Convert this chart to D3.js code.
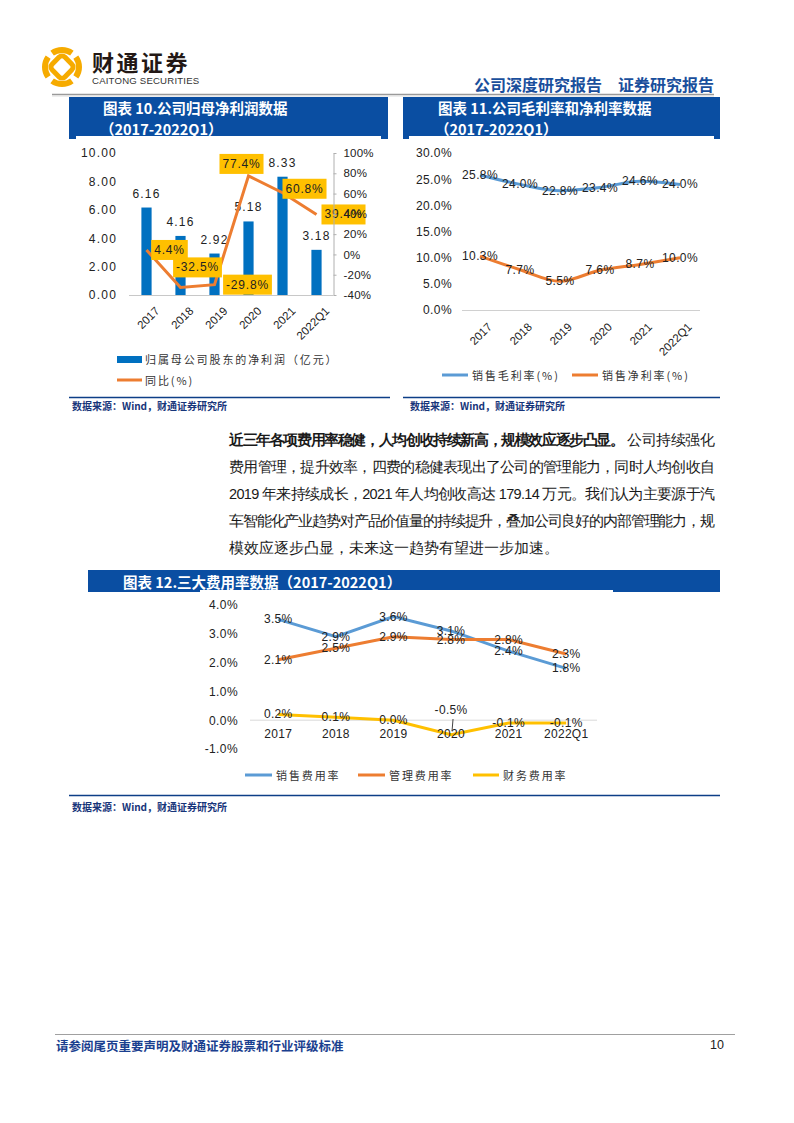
<!DOCTYPE html>
<html><head><meta charset="utf-8">
<script src="https://cdn.jsdelivr.net/npm/d3@7"></script>
<style>
body{margin:0;background:#fff}
svg text{font-family:"Liberation Sans",Arial,sans-serif}
</style></head><body><div id="page"></div>
<script>
// ---------------- data ----------------
const years = ["2017","2018","2019","2020","2021","2022Q1"];
const netProfit = [6.16,4.16,2.92,5.18,8.33,3.18];          // 归属母公司股东的净利润（亿元）
const netProfitYoY = [4.4,-32.5,-29.8,77.4,60.8,39.4];      // 同比(%)
const grossMargin = [25.8,24.0,22.8,23.4,24.6,24.0];        // 销售毛利率(%)
const netMargin = [10.3,7.7,5.5,7.6,8.7,10.0];              // 销售净利率(%)
const sellingRate = [3.5,2.9,3.6,3.1,2.4,1.8];              // 销售费用率
const adminRate = [2.1,2.5,2.9,2.8,2.8,2.3];                // 管理费用率
const financeRate = [0.2,0.1,0.0,-0.5,-0.1,-0.1];           // 财务费用率
const leftTicks10 = [0,2,4,6,8,10];
const rightTicks10 = [-40,-20,0,20,40,60,80,100];
const ticks11 = [0,5,10,15,20,25,30];
const ticks12 = [-1,0,1,2,3,4];

// label offsets (layout only)
const yoyLabelOffsets = [[23,0],[17,-20],[33,0],[-7,-12],[22,-4],[27,0]];

const CJK = '"Noto Sans CJK SC","Noto Sans",sans-serif';
const TITLE_BLUE = "#0a4ea2";
const BAR_BLUE = "#0070c0";
const L_BLUE = "#5b9bd5", L_ORANGE = "#ed7d31", L_YELLOW = "#ffc000";

const svg = d3.select("#page").append("svg").attr("width",794).attr("height",1123);

// ---------------- header ----------------
(function logo(){
  const g = svg.append("g").attr("transform","translate(62,67)");
  const arc = d3.arc();
  const segs = [[-0.62,0.62],[Math.PI/2-0.62,Math.PI/2+0.62],[Math.PI-0.62,Math.PI+0.62],[3*Math.PI/2-0.62,3*Math.PI/2+0.62]];
  segs.forEach(s=>{
    g.append("path").attr("d",arc({innerRadius:14,outerRadius:20,startAngle:s[0],endAngle:s[1]})).attr("fill","#f6ab00");
  });
  g.append("rect").attr("x",-9).attr("y",-9).attr("width",18).attr("height",18).attr("rx",4)
    .attr("transform","rotate(45)").attr("fill","none").attr("stroke","#f6ab00").attr("stroke-width",5);
})();
svg.append("text").attr("x",92).attr("y",71).attr("font-size",22).attr("font-weight",700)
  .attr("letter-spacing",2.5).style("font-family",CJK).attr("fill","#231815").text("财通证券");
svg.append("text").attr("x",92).attr("y",84).attr("font-size",9.6).attr("fill","#333")
  .attr("letter-spacing",0.2).text("CAITONG SECURITIES");
svg.append("text").attr("x",602).attr("y",91).attr("text-anchor","end").attr("font-size",16).attr("font-weight",700)
  .style("font-family",CJK).attr("fill","#1a4f9c").text("公司深度研究报告");
svg.append("text").attr("x",714).attr("y",91).attr("text-anchor","end").attr("font-size",16).attr("font-weight",700)
  .style("font-family",CJK).attr("fill","#1a4f9c").text("证券研究报告");
svg.append("line").attr("x1",52).attr("x2",714).attr("y1",94.5).attr("y2",94.5).attr("stroke","#9a9a9a").attr("stroke-width",1.5);
svg.append("line").attr("x1",52).attr("x2",714).attr("y1",96).attr("y2",96).attr("stroke","#dcdcdc").attr("stroke-width",1);

// ---------------- title boxes ----------------
function titleBox(x0,x1,y0,y1){
  svg.append("rect").attr("x",x0).attr("y",y0).attr("width",x1-x0).attr("height",y1-y0).attr("fill",TITLE_BLUE);
}
function titleText(x,y,t){
  svg.append("text").attr("x",x).attr("y",y).attr("font-size",14.5).attr("font-weight",700)
    .style("font-family",CJK).attr("fill","#fff").attr("dominant-baseline","central").text(t);
}
titleBox(69,388,97,139);
titleBox(403,720,97,139);
svg.append("rect").attr("x",76).attr("y",136).attr("width",305).attr("height",4).attr("fill","#fff");
svg.append("rect").attr("x",409).attr("y",136).attr("width",305).attr("height",4).attr("fill","#fff");
titleText(103,107,"图表 10.公司归母净利润数据");
titleText(100,128,"（2017-2022Q1）");
titleText(438,107,"图表 11.公司毛利率和净利率数据");
titleText(435,128,"（2017-2022Q1）");
titleBox(88,720,570,592);
svg.append("rect").attr("x",200).attr("y",590).attr("width",413).attr("height",3).attr("fill","#fff");
titleText(123,581,"图表 12.三大费用率数据（2017-2022Q1）");

function styleAxis(g, size){
  g.select(".domain").remove();
  g.selectAll("text").attr("font-size",size).attr("fill","#222").attr("letter-spacing",0.6)
    .style("font-family",'"Liberation Sans",Arial,sans-serif');
}
function legendText(x,y,t){
  svg.append("text").attr("x",x).attr("y",y).attr("font-size",11).attr("letter-spacing",1.9)
    .attr("dominant-baseline","central").style("font-family",CJK).attr("fill","#333").text(t);
}

// ---------------- chart 10 ----------------
(function(){
  const x = d3.scaleBand().domain(years).range([129.5,333.5]).paddingInner(0.7).paddingOuter(0.35);
  const cx = d => x(d)+x.bandwidth()/2;
  const yL = d3.scaleLinear().domain([0,10]).range([295,153]);
  const yR = d3.scaleLinear().domain([-40,100]).range([295,153]);
  const g = svg.append("g");
  const ga = g.append("g").attr("transform","translate(121,0)")
    .call(d3.axisLeft(yL).tickValues(leftTicks10).tickFormat(d=>d.toFixed(2)).tickSize(0).tickPadding(4));
  styleAxis(ga,12);
  ga.selectAll("text").attr("letter-spacing",1.2);
  g.append("line").attr("x1",129).attr("x2",333).attr("y1",295.5).attr("y2",295.5).attr("stroke","#c8c8c8");
  g.selectAll(".bar").data(netProfit).join("rect")
    .attr("x",(d,i)=>x(years[i])).attr("width",x.bandwidth())
    .attr("y",d=>yL(d)).attr("height",d=>yL(0)-yL(d)).attr("fill",BAR_BLUE);
  g.selectAll(".bl").data(netProfit).join("text")
    .attr("x",(d,i)=>cx(years[i])).attr("y",d=>yL(d)-14).attr("text-anchor","middle")
    .attr("dominant-baseline","central").attr("font-size",12).attr("letter-spacing",1.2).attr("fill","#222")
    .text(d=>d.toFixed(2));
  const gr = g.append("g").attr("transform","translate(333.5,0)")
    .call(d3.axisRight(yR).tickValues(rightTicks10).tickFormat(d=>d+"%").tickSize(3).tickSizeOuter(0).tickPadding(7));
  gr.select(".domain").attr("stroke","#b0b0b0");
  gr.selectAll("line").attr("stroke","#b0b0b0");
  gr.selectAll("text").attr("font-size",11.5).attr("fill","#222").attr("letter-spacing",0.2);
  const line = d3.line().x((d,i)=>cx(years[i])).y(d=>yR(d));
  g.append("path").attr("d",line(netProfitYoY)).attr("fill","none").attr("stroke",L_ORANGE).attr("stroke-width",3);
  netProfitYoY.forEach((v,i)=>{
    const px = cx(years[i])+yoyLabelOffsets[i][0], py = yR(v)+yoyLabelOffsets[i][1];
    const lg = g.append("g");
    const t = lg.append("text").attr("x",px).attr("y",py).attr("text-anchor","middle").attr("dominant-baseline","central")
      .attr("font-size",12).attr("letter-spacing",0.8).attr("fill","#222").text(v.toFixed(1)+"%");
    const w = t.node().getComputedTextLength()+6;
    lg.insert("rect","text").attr("x",px-w/2).attr("y",py-10).attr("width",w).attr("height",20).attr("fill",L_YELLOW);
  });
  gr.raise();
  const gx = g.append("g").attr("transform","translate(0,295)")
    .call(d3.axisBottom(x).tickSize(0).tickPadding(0));
  gx.select(".domain").remove();
  gx.selectAll("text").attr("font-size",11.5).attr("fill","#222").attr("text-anchor","end")
    .attr("dy",0).attr("y",0).attr("x",0)
    .attr("transform","translate(8,11) rotate(-45)").attr("dominant-baseline","hanging");
  // legend
  svg.append("rect").attr("x",117).attr("y",356).attr("width",25).attr("height",7).attr("fill",BAR_BLUE);
  legendText(145,359,"归属母公司股东的净利润（亿元）");
  svg.append("line").attr("x1",117).attr("x2",142).attr("y1",380).attr("y2",380).attr("stroke",L_ORANGE).attr("stroke-width",3);
  legendText(145,380,"同比(%)");
})();

// ---------------- chart 11 ----------------
(function(){
  const x = d3.scaleBand().domain(years).range([460,700]);
  const cx = d => x(d)+x.bandwidth()/2;
  const y = d3.scaleLinear().domain([0,30]).range([310,153]);
  const g = svg.append("g");
  const ga = g.append("g").attr("transform","translate(456,0)")
    .call(d3.axisLeft(y).tickValues(ticks11).tickFormat(d=>d.toFixed(1)+"%").tickSize(0).tickPadding(4));
  styleAxis(ga,12);
  ga.selectAll("text").attr("letter-spacing",0.4);
  g.append("line").attr("x1",462).attr("x2",700).attr("y1",310.5).attr("y2",310.5).attr("stroke","#d0d0d0");
  const line = d3.line().x((d,i)=>cx(years[i])).y(d=>y(d)).curve(d3.curveMonotoneX);
  [[grossMargin,L_BLUE],[netMargin,L_ORANGE]].forEach(([arr,c])=>{
    g.append("path").attr("d",line(arr)).attr("fill","none").attr("stroke",c).attr("stroke-width",3);
  });
  [grossMargin,netMargin].forEach(arr=>{
    g.append("g").selectAll("text").data(arr).join("text")
      .attr("x",(d,i)=>cx(years[i])).attr("y",d=>y(d)).attr("text-anchor","middle").attr("dominant-baseline","central")
      .attr("font-size",12).attr("letter-spacing",0.4).attr("fill","#222").text(d=>d.toFixed(1)+"%");
  });
  const gx = g.append("g").attr("transform","translate(0,310)")
    .call(d3.axisBottom(x).tickSize(0).tickPadding(0));
  gx.select(".domain").remove();
  gx.selectAll("text").attr("font-size",11.5).attr("fill","#222").attr("text-anchor","end")
    .attr("dy",0).attr("y",0).attr("x",0)
    .attr("transform","translate(7,12) rotate(-45)").attr("dominant-baseline","hanging");
  svg.append("line").attr("x1",442).attr("x2",468).attr("y1",375).attr("y2",375).attr("stroke",L_BLUE).attr("stroke-width",3);
  legendText(472,375,"销售毛利率(%)");
  svg.append("line").attr("x1",572).attr("x2",598).attr("y1",375).attr("y2",375).attr("stroke",L_ORANGE).attr("stroke-width",3);
  legendText(602,375,"销售净利率(%)");
})();

// ---------------- sources ----------------
function source(x0,x1,yLine,tx,ty){
  svg.append("line").attr("x1",x0).attr("x2",x1).attr("y1",yLine).attr("y2",yLine).attr("stroke","#0d3f87").attr("stroke-width",1.3);
  svg.append("text").attr("x",tx).attr("y",ty).attr("font-size",10).attr("font-weight",700)
    .attr("dominant-baseline","central").style("font-family",CJK).attr("fill","#17357a").text("数据来源：Wind，财通证券研究所");
}
source(69,390,397.5,72,405);
source(403,720,397.5,410,405);
source(69,720,795.5,72,806);

// ---------------- paragraph ----------------
(function(){
  const g = svg.append("g").style("font-family",CJK).attr("font-size",14.5).attr("fill","#1a1a1a");
  g.append("text").attr("x",229).attr("y",440).attr("dominant-baseline","central").attr("font-weight",700)
    .attr("textLength",396).attr("lengthAdjust","spacing").text("近三年各项费用率稳健，人均创收持续新高，规模效应逐步凸显。");
  g.append("text").attr("x",627).attr("y",440).attr("dominant-baseline","central")
    .attr("textLength",88).attr("lengthAdjust","spacing").text("公司持续强化");
  const lines = ["费用管理，提升效率，四费的稳健表现出了公司的管理能力，同时人均创收自",
    "2019 年来持续成长，2021 年人均创收高达 179.14 万元。我们认为主要源于汽",
    "车智能化产业趋势对产品价值量的持续提升，叠加公司良好的内部管理能力，规",
    "模效应逐步凸显，未来这一趋势有望进一步加速。"];
  lines.forEach((t,i)=>{
    const tx = g.append("text").attr("x",229).attr("y",467+i*27).attr("dominant-baseline","central").text(t);
    if(i<3) tx.attr("textLength",486).attr("lengthAdjust","spacing");
  });
})();

// ---------------- chart 12 ----------------
(function(){
  const x = d3.scaleBand().domain(years).range([249.5,595]);
  const cx = d => x(d)+x.bandwidth()/2;
  const y = d3.scaleLinear().domain([-1,4]).range([749,605]);
  const g = svg.append("g");
  const ga = g.append("g").attr("transform","translate(242,0)")
    .call(d3.axisLeft(y).tickValues(ticks12).tickFormat(d=>d.toFixed(1)+"%").tickSize(0).tickPadding(4));
  styleAxis(ga,12);
  ga.selectAll("text").attr("letter-spacing",0.4);
  g.append("line").attr("x1",250).attr("x2",597).attr("y1",y(0)).attr("y2",y(0)).attr("stroke","#d9d9d9");
  const line = d3.line().x((d,i)=>cx(years[i])).y(d=>y(d));
  const series = [[sellingRate,L_BLUE],[adminRate,L_ORANGE],[financeRate,L_YELLOW]];
  series.forEach(([arr,c])=>{
    g.append("path").attr("d",line(arr)).attr("fill","none").attr("stroke",c).attr("stroke-width",3);
  });
  const gx = g.append("g").attr("transform","translate(0,"+y(0)+")")
    .call(d3.axisBottom(x).tickSize(0).tickPadding(9));
  gx.select(".domain").remove();
  gx.selectAll("text").attr("font-size",12).attr("fill","#222").attr("letter-spacing",0.3);
  // leader line for moved label
  g.append("line").attr("x1",cx("2020")+2).attr("x2",cx("2020")+1).attr("y1",719).attr("y2",731).attr("stroke","#444");
  series.forEach(([arr])=>{
    g.append("g").selectAll("text").data(arr).join("text")
      .attr("x",(d,i)=>cx(years[i]))
      .attr("y",(d,i)=> (arr===financeRate && years[i]==="2020") ? y(d)-25 : y(d))
      .attr("text-anchor","middle").attr("dominant-baseline","central")
      .attr("font-size",12).attr("letter-spacing",0.3).attr("fill","#222").text(d=>d.toFixed(1)+"%");
  });
  svg.append("line").attr("x1",245).attr("x2",272).attr("y1",775).attr("y2",775).attr("stroke",L_BLUE).attr("stroke-width",3);
  legendText(276,775,"销售费用率");
  svg.append("line").attr("x1",358).attr("x2",385).attr("y1",775).attr("y2",775).attr("stroke",L_ORANGE).attr("stroke-width",3);
  legendText(389,775,"管理费用率");
  svg.append("line").attr("x1",473).attr("x2",499).attr("y1",775).attr("y2",775).attr("stroke",L_YELLOW).attr("stroke-width",3);
  legendText(503,775,"财务费用率");
})();

// ---------------- footer ----------------
svg.append("line").attr("x1",55).attr("x2",735).attr("y1",1034.5).attr("y2",1034.5).attr("stroke","#a0a0a0").attr("stroke-width",1.2);
svg.append("text").attr("x",56).attr("y",1045).attr("dominant-baseline","central").attr("font-size",12.5).attr("font-weight",700)
  .style("font-family",CJK).attr("fill","#1a3f8f").text("请参阅尾页重要声明及财通证券股票和行业评级标准");
svg.append("text").attr("x",710).attr("y",1045).attr("dominant-baseline","central").attr("font-size",12.5)
  .attr("fill","#222").text("10");
</script></body></html>
